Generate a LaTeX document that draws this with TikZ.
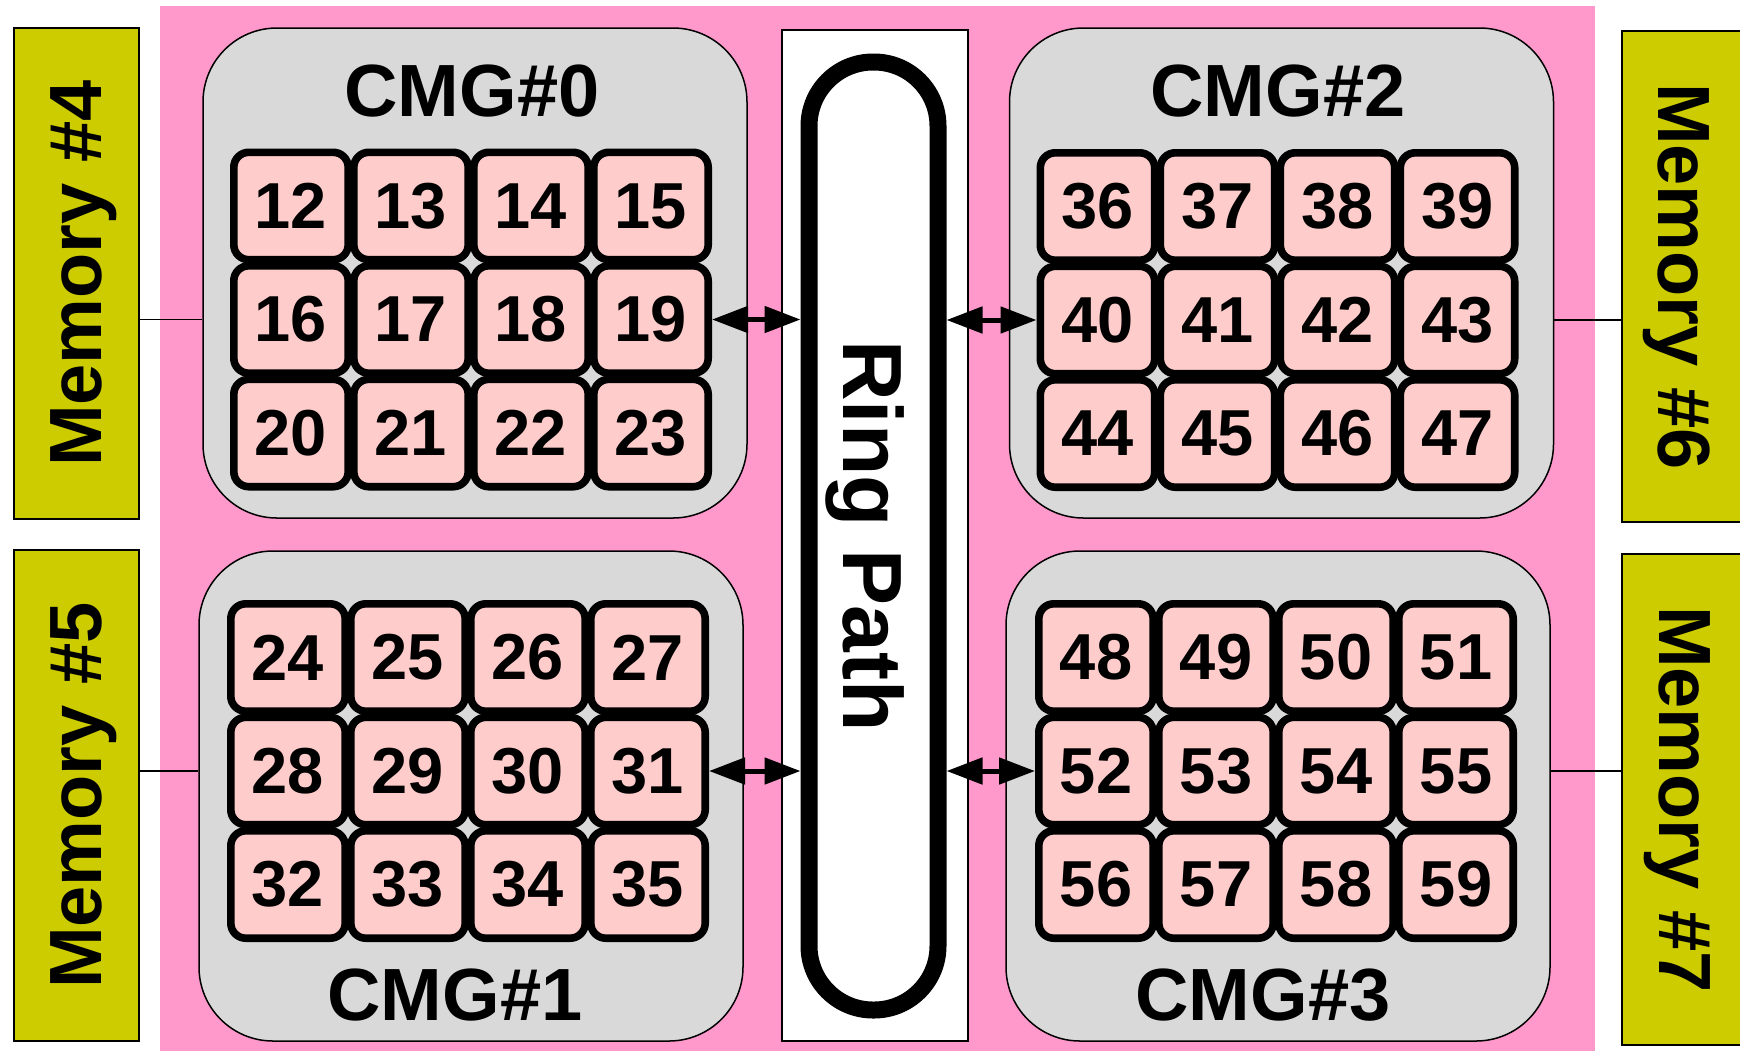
\documentclass[tikz,border=0pt]{standalone}
\usepackage{fontspec}
\setmainfont{Liberation Sans}
\usetikzlibrary{arrows.meta,calc}
\definecolor{pinkbg}{HTML}{FF99CC}
\definecolor{cmggray}{HTML}{D9D9D9}
\definecolor{corefill}{HTML}{FFCCCC}
\definecolor{memfill}{HTML}{CCCC00}
\begin{document}
\begin{tikzpicture}[x=0.5pt,y=-0.5pt,
  cmg/.style={draw=black, line width=0.75pt, fill=cmggray, rounded corners=37pt,
    minimum width=272pt, minimum height=245pt, inner sep=0pt},
  core/.style={draw=black, line width=3.8pt, fill=corefill, rounded corners=7.5pt,
    minimum width=57.2pt, minimum height=53.7pt, inner sep=0pt,
    font=\fontsize{32.5}{32.5}\selectfont\bfseries},
  mem/.style={draw=black, line width=0.75pt, fill=memfill, minimum width=245.5pt,
    minimum height=62.5pt, inner sep=0pt, text depth=0pt,
    font=\fontsize{37}{37}\selectfont\bfseries},
  title/.style={font=\fontsize{37}{37}\selectfont\bfseries, inner sep=0pt},
  link/.style={line width=0.75pt},
  biarrow/.style={line width=2.5pt,
    {Triangle[length=18pt,width=13pt]}-{Triangle[length=18pt,width=13pt]}},
]
\useasboundingbox (0,0) rectangle (1740,1051);
\fill[pinkbg] (160,6) rectangle (1595,1051);

% memories
\node[mem, rotate=90] (m4) at (76.5,273.5) {Memory \#4};
\node[mem, rotate=90] (m5) at (76.5,795.5) {Memory \#5};
\node[mem, rotate=-90] (m6) at (1684.5,276.5) {Memory \#6};
\node[mem, rotate=-90] (m7) at (1684.5,799.5) {Memory \#7};

% CMGs
\node[cmg] (cmg0) at (475,273) {};
\node[cmg] (cmg1) at (471,796) {};
\node[cmg] (cmg2) at (1281.5,273) {};
\node[cmg] (cmg3) at (1278,796) {};
\node[title] (t0) at (472,91) {CMG\#0};
\node[title] (t1) at (455,995) {CMG\#1};
\node[title] (t2) at (1278,91) {CMG\#2};
\node[title] (t3) at (1263,995) {CMG\#3};

% ring path
\node[draw=black, line width=0.75pt, fill=white, minimum width=93pt,
  minimum height=505.5pt, inner sep=0pt] (ringbox) at (875,535.5) {};
\node[draw=black, line width=8.5pt, fill=white, rounded corners=32pt,
  minimum width=64.5pt, minimum height=474pt, inner sep=0pt] (ring) at (873.5,536) {};
\node[rotate=-90, text depth=0pt, inner sep=0pt,
  font=\fontsize{42}{42}\selectfont\bfseries] (ringtext) at (ring.center) {Ring Path};

% cores
\foreach \gx/\gy/\start in {471/319.5/12, 468/771/24, 1277.5/320/36, 1276/771/48} {
  \foreach \r in {0,1,2} {
    \foreach \c in {0,1,2,3} {
      \pgfmathtruncatemacro\n{\start+4*\r+\c}
      \node[core] (c\n) at ({\gx+(\c-1.5)*120},{\gy+(\r-1)*113.5}) {\n};
    }
  }
}

% memory links
\draw[link] (m4.south |- c16) -- (cmg0.west |- c16);
\draw[link] (m5.south |- c28) -- (cmg1.west |- c28);
\draw[link] (cmg2.east |- c43) -- (m6.south |- c43);
\draw[link] (cmg3.east |- c55) -- (m7.south |- c55);

% ring arrows
\draw[biarrow] (c19.east) -- (c19.east -| ring.west);
\draw[biarrow] (c31.east) -- (c31.east -| ring.west);
\draw[biarrow] (ring.east |- c40.west) -- (c40.west);
\draw[biarrow] (ring.east |- c52.west) -- (c52.west);
\end{tikzpicture}
\end{document}
